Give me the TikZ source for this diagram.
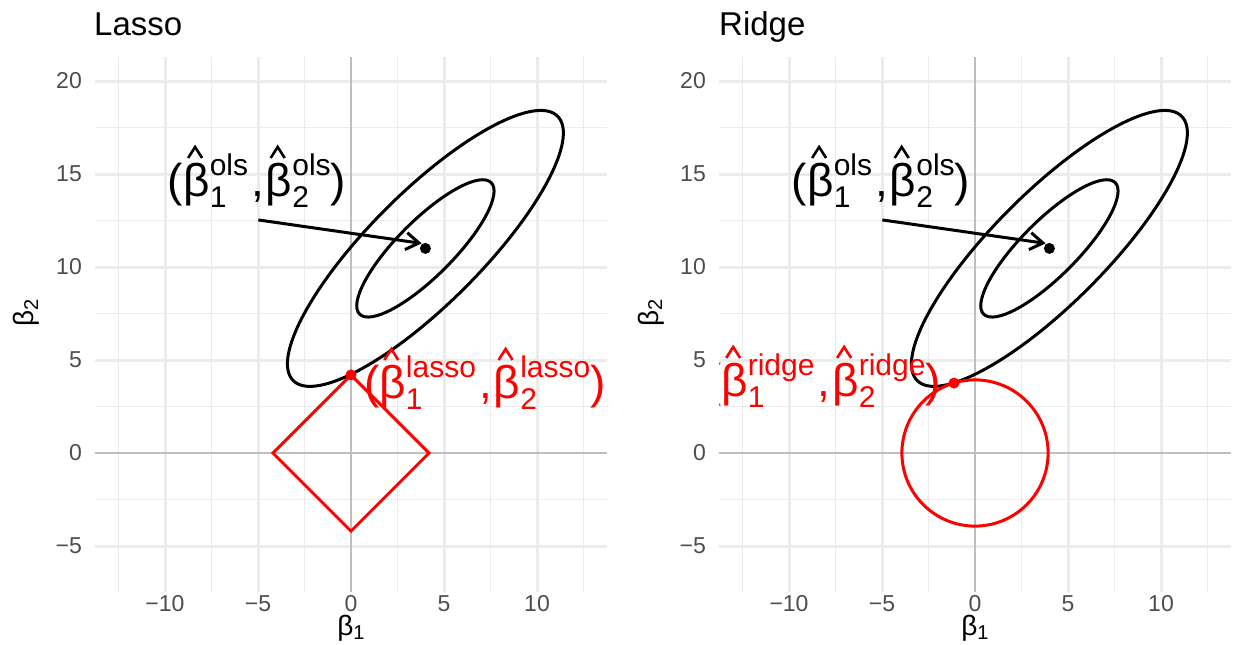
\documentclass[tikz,border=0pt]{standalone}
\usepackage{fontspec}
\setmainfont{Liberation Sans}
\usetikzlibrary{arrows.meta}
\definecolor{gridc}{HTML}{EBEBEB}
\definecolor{zeroc}{HTML}{BEBEBE}
\definecolor{tickc}{HTML}{4D4D4D}
\definecolor{myred}{HTML}{FF0000}
\newcommand\fsz[1]{\fontsize{#1}{#1}\selectfont}
\newcommand\hatc{\tikz[x=1pt,y=1pt,baseline=0pt]\draw[line width=2.6pt,line cap=butt,line join=miter] (0,0) -- (7,11) -- (14,0);}
\newcommand\bh[2]{\makebox[0pt][l]{\hspace{3.5pt}\raisebox{38pt}{\hatc}}β\makebox[0pt][l]{\raisebox{-0.24em}{\fsz{30}#1}}\raisebox{0.45em}{\fsz{30}#2}}
\newcommand\cm{\hspace{3pt},\hspace{2pt}}
\newcommand\panelgrid{%
  \foreach \v in {-12.5,-7.5,-2.5,2.5,7.5,12.5} \draw[minorgrid] (\v,-7.47) -- (\v,21.29);
  \foreach \v in {-2.5,2.5,7.5,12.5,17.5} \draw[minorgrid] (-13.76,\v) -- (13.76,\v);
  \foreach \v in {-10,-5,5,10} \draw[majorgrid] (\v,-7.47) -- (\v,21.29);
  \foreach \v in {-5,5,10,15,20} \draw[majorgrid] (-13.76,\v) -- (13.76,\v);
  \draw[zeroline] (0,-7.47) -- (0,21.29);
  \draw[zeroline] (-13.76,0) -- (13.76,0);
  \draw[blackline, rotate around={45:(4,11)}] (4,11) ellipse [x radius=10.05, y radius=3];
  \draw[blackline, rotate around={45:(4,11)}] (4,11) ellipse [x radius=5, y radius=1.5];
}
\tikzset{
  minorgrid/.style={draw=gridc, line width=1.6pt},
  majorgrid/.style={draw=gridc, line width=3pt},
  zeroline/.style={draw=zeroc, line width=2.8pt},
  blackline/.style={draw=black, line width=3pt},
  redline/.style={draw=myred, line width=3pt},
  dot/.style={circle, fill=black, inner sep=0pt, minimum size=11pt},
  reddot/.style={circle, fill=myred, inner sep=0pt, minimum size=11pt},
  arr/.style={draw=black, line width=3pt, -{Straight Barb[length=13pt,width=17pt]}},
  lab/.style={inner sep=0pt, font=\fsz{46}},
  ticklab/.style={inner sep=0pt, text=tickc, font=\fsz{23}},
  ttl/.style={inner sep=0pt, font=\fsz{33}},
  axt/.style={inner sep=0pt, font=\fsz{28}},
}
\begin{document}
\begin{tikzpicture}[x=1pt,y=-1pt]
\useasboundingbox (0,0) rectangle (1235,645);
\fill[white] (0,0) rectangle (1235,645);

% ---------- Left panel (Lasso)
\begin{scope}[shift={(351,453)}, x=18.6pt, y=18.6pt]
  \panelgrid
  \draw[redline] (4.2,0) -- (0,4.2) -- (-4.2,0) -- (0,-4.2) -- cycle;
  \node[dot] (olsL) at (4,11) {};
  \node[reddot] (lassoPt) at (0,4.2) {};
  \coordinate (arrStartL) at (-4.98,12.53);
  \coordinate (arrTipL) at (3.8,11.27);
  \draw[arr] (arrStartL) -- (arrTipL);
\end{scope}
\node[lab, anchor=base] (labOlsL) at (257,196) {(\bh{1}{ols}\cm\bh{2}{ols})};
\node[lab, anchor=base west, text=myred] (labLasso) at (364,398) {(\bh{1}{lasso}\cm\bh{2}{lasso})};

% ---------- Right panel (Ridge)
\begin{scope}[shift={(975,453)}, x=18.6pt, y=18.6pt]
  \panelgrid
  \draw[redline] (0,0) circle [radius=3.93];
  \node[dot] (olsR) at (4,11) {};
  \node[reddot] (ridgePt) at (-1.13,3.76) {};
  \coordinate (arrStartR) at (-4.98,12.53);
  \coordinate (arrTipR) at (3.8,11.27);
  \draw[arr] (arrStartR) -- (arrTipR);
\end{scope}
\node[lab, anchor=base] (labOlsR) at (881,196) {(\bh{1}{ols}\cm\bh{2}{ols})};
\begin{scope}
  \clip (719,57) rectangle (1230,592);
  \node[lab, anchor=base east, text=myred] (labRidge) at (941,396) {(\bh{1}{ridge}\cm\bh{2}{ridge})};
\end{scope}

% ---------- titles
\node[ttl, anchor=base west] (ttlL) at (94,35) {Lasso};
\node[ttl, anchor=base west] (ttlR) at (719,35) {Ridge};

% ---------- y tick labels
\foreach \val/\py in {20/81, 15/174, 10/267, 5/360, 0/453, −5/546} {
  \node[ticklab, anchor=east] at (82,\py) {\val};
  \node[ticklab, anchor=east] at (706,\py) {\val};
}
% ---------- x tick labels
\foreach \val/\px in {−10/165, −5/258, 0/351, 5/444, 10/537} {
  \node[ticklab, anchor=base] at (\px,611) {\val};
}
\foreach \val/\px in {−10/789, −5/882, 0/975, 5/1068, 10/1161} {
  \node[ticklab, anchor=base] at (\px,611) {\val};
}
% ---------- axis titles
\node[axt, anchor=base] (xtL) at (351,635) {β\raisebox{-0.15em}{\fsz{20}1}};
\node[axt, anchor=base] (xtR) at (975,635) {β\raisebox{-0.15em}{\fsz{20}1}};
\node[axt, anchor=base, rotate=90] (ytL) at (34,313) {β\raisebox{-0.15em}{\fsz{20}2}};
\node[axt, anchor=base, rotate=90] (ytR) at (658,313) {β\raisebox{-0.15em}{\fsz{20}2}};
\end{tikzpicture}
\end{document}
